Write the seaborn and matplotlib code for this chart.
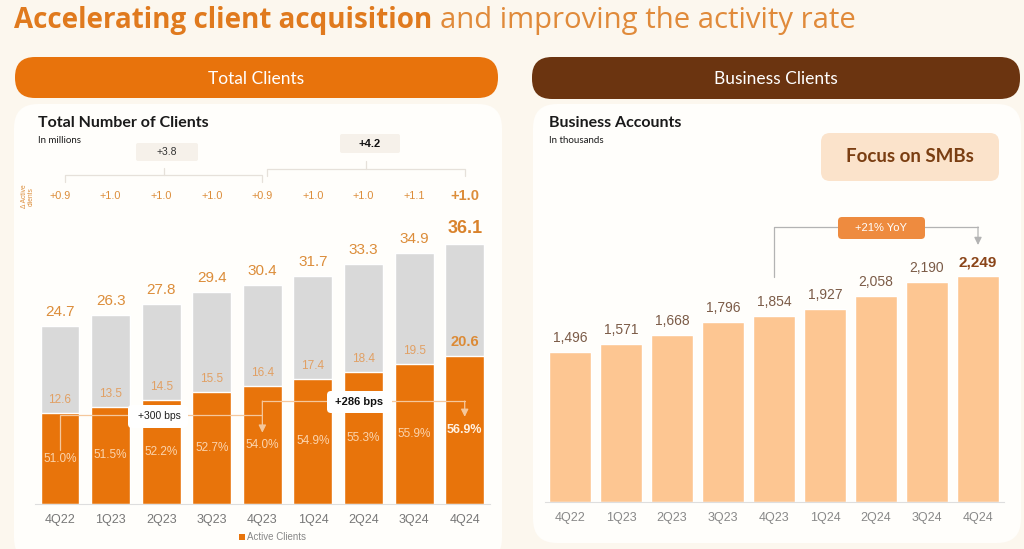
import matplotlib
matplotlib.use("Agg")
import matplotlib.pyplot as plt
import seaborn as sns
import pandas as pd
from matplotlib.patches import FancyBboxPatch, Rectangle
from matplotlib.transforms import IdentityTransform

# ---------------- data ----------------
quarters = ["4Q22", "1Q23", "2Q23", "3Q23", "4Q23", "1Q24", "2Q24", "3Q24", "4Q24"]
total_clients = [24.7, 26.3, 27.8, 29.4, 30.4, 31.7, 33.3, 34.9, 36.1]
active_clients = [12.6, 13.5, 14.5, 15.5, 16.4, 17.4, 18.4, 19.5, 20.6]
activity_rate = ["51.0%", "51.5%", "52.2%", "52.7%", "54.0%", "54.9%", "55.3%", "55.9%", "56.9%"]
delta_active = ["+0.9", "+1.0", "+1.0", "+1.0", "+0.9", "+1.0", "+1.0", "+1.1", "+1.0"]
period_growth = ["+3.8", "+4.2"]
bps_labels = ["+300 bps", "+286 bps"]
business_accounts = [1496, 1571, 1668, 1796, 1854, 1927, 2058, 2190, 2249]
yoy_label = "+21% YoY"

# ---------------- style ----------------
sns.set_style("white")
plt.rcParams["font.family"] = ["Liberation Sans", "DejaVu Sans"]
HEAD = ["Lato", "DejaVu Sans"]
TITLE = ["Open Sans", "DejaVu Sans"]

BG = "#fcf7ee"
PANEL = "#fffefb"
ORANGE = "#e8740b"
GRAY = "#d9d9d9"
PEACH = "#fdc692"
LBL = "#dc8d3a"
LBL2 = "#e1a064"
BROWN = "#6b3410"

W, H = 1024, 549
fig = plt.figure(figsize=(W / 100, H / 100), dpi=100)
fig.patch.set_facecolor(BG)


def fx(x):
    return x / W


def fy(y):
    return 1 - y / H


def rbox(x0, y0, x1, y1, r, fc, z=-5):
    p = FancyBboxPatch((x0, H - y1), x1 - x0, y1 - y0,
                       boxstyle=f"round,pad=0,rounding_size={r}",
                       transform=IdentityTransform(), fc=fc, ec="none", zorder=z)
    fig.add_artist(p)


def ftext(x, y, s, **kw):
    kw.setdefault("ha", "center")
    kw.setdefault("va", "center")
    kw.setdefault("zorder", 10)
    return fig.text(fx(x), fy(y), s, **kw)


def fit_text(t, target_px):
    fig.canvas.draw()
    w = t.get_window_extent().width
    t.set_fontsize(t.get_fontsize() * target_px / w)


# ---------------- title ----------------
t1 = ftext(14, 28, "Accelerating client acquisition", family=TITLE, fontweight="bold",
           fontsize=20, color="#e07a1e", va="baseline", ha="left")
fit_text(t1, 418)
fig.canvas.draw()
bb = t1.get_window_extent()
t2 = fig.text((bb.x1 + 8) / W, fy(28), "and improving the activity rate", family=TITLE,
              fontsize=20, color="#e08a3a", va="baseline", ha="left")
fit_text(t2, 415)

# ---------------- headers & panels ----------------
rbox(15, 57, 498, 98, 20, "#e8730c")
rbox(532, 57, 1020, 99, 20, BROWN)
ftext(256, 84, "Total Clients", family=HEAD, fontsize=12.5, color="white", va="baseline")
ftext(776, 84, "Business Clients", family=HEAD, fontsize=12.5, color="white", va="baseline")

rbox(14, 104, 502, 562, 24, PANEL)
rbox(533, 104, 1021, 543, 24, PANEL)

ftext(38, 127, "Total Number of Clients", family=HEAD, fontweight="bold", fontsize=11.5,
      color="#1a1a1a", ha="left", va="baseline")
ftext(38, 143, "In millions", family=HEAD, fontsize=7, color="#1a1a1a", ha="left", va="baseline")
ftext(549, 127, "Business Accounts", family=HEAD, fontweight="bold", fontsize=11.5,
      color="#1a1a1a", ha="left", va="baseline")
ftext(549, 143, "In thousands", family=HEAD, fontsize=7, color="#1a1a1a", ha="left", va="baseline")

# ---------------- left chart ----------------
ax1 = fig.add_axes([fx(34.7), fy(504), (490 - 34.7) / W, 288 / H])
ax1.set_facecolor("none")
df1 = pd.DataFrame({"quarter": quarters, "total": total_clients, "active": active_clients})
sns.barplot(data=df1, x="quarter", y="total", color=GRAY, saturation=1, width=0.77, ax=ax1)
sns.barplot(data=df1, x="quarter", y="active", color=ORANGE, saturation=1, width=0.77, ax=ax1)
ax1.set_xlim(-0.5, len(quarters) - 0.5)
ax1.set_ylim(0, 40)
ax1.set_xlabel("")
ax1.set_ylabel("")
ax1.set_yticks([])
for s in ["top", "left", "right"]:
    ax1.spines[s].set_visible(False)
ax1.spines["bottom"].set_color("#dedede")
ax1.tick_params(axis="x", length=0, pad=7, labelsize=9, labelcolor="#777777")

n = len(quarters)
for i in range(n):
    last = i == n - 1
    ax1.annotate(f"{total_clients[i]:.1f}", (i, total_clients[i]), xytext=(0, 5),
                 textcoords="offset points", ha="center", va="bottom",
                 fontsize=13 if last else 11, fontweight="bold" if last else "normal",
                 color="#d9822b" if last else LBL)
    ax1.annotate(f"{active_clients[i]:.1f}", (i, active_clients[i]), xytext=(0, 5),
                 textcoords="offset points", ha="center", va="bottom",
                 fontsize=10.5 if last else 8.5, fontweight="bold" if last else "normal",
                 color="#dc8a35" if last else LBL2)
    ax1.text(i, active_clients[i] / 2, activity_rate[i], ha="center", va="center",
             fontsize=9 if last else 8.5, fontweight="bold" if last else "normal",
             color="#fff1e2" if last else "#fbd4ad", zorder=5)
    ax1.text(i, 1.069, delta_active[i], transform=ax1.get_xaxis_transform(),
             ha="center", va="center", fontsize=10.5 if last else 7.8,
             fontweight="bold" if last else "normal", color=LBL, clip_on=False)

ax1.text(-0.63, 1.069, "Δ Active\nclients", transform=ax1.get_xaxis_transform(),
         rotation=90, ha="center", va="center", fontsize=4.8, color=LBL,
         linespacing=1.0, clip_on=False)

# period brackets
xt = ax1.get_xaxis_transform()
BR = "#e6e1da"
for (xa, xb, yb, ye, yc) in [(0.1, 4.0, 1.142, 1.118, 1.167), (4.1, 8.0, 1.163, 1.139, 1.191)]:
    ax1.plot([xa, xa, xb, xb], [ye, yb, yb, ye], color=BR, lw=0.9, transform=xt, clip_on=False)
    xm = (xa + xb) / 2
    ax1.plot([xm, xm], [yb, yc], color=BR, lw=0.9, transform=xt, clip_on=False)

rbox(136, 143, 198, 161, 2, "#f6f1ea", z=4)
ftext(167, 152, period_growth[0], fontsize=7.5, color="#333333")
rbox(340, 134, 400, 153, 2, "#f6f1ea", z=4)
ftext(370, 144, period_growth[1], fontsize=8, fontweight="bold", color="#111111")

# activity-rate connectors
LC = "#f5c79c"
ax1.plot([0, 0, 4], [7.5, 12.4, 12.4], color=LC, lw=0.9, zorder=4)
ax1.plot([4, 8], [14.3, 14.3], color=LC, lw=0.9, zorder=4)
for (x, y0, y1) in [(4, 14.3, 9.9), (8, 14.3, 12.1)]:
    ax1.annotate("", xy=(x, y1), xytext=(x, y0),
                 arrowprops=dict(arrowstyle="-|>,head_length=0.45,head_width=0.22",
                                 color=LC, lw=0.9, shrinkA=0, shrinkB=0), zorder=4)

rbox(128, 405, 188, 428, 4, "white", z=5)
ftext(159, 416, bps_labels[0], fontsize=7.5, color="#222222")
rbox(327, 391, 392, 413, 4, "white", z=5)
ftext(359, 402, bps_labels[1], fontsize=8, fontweight="bold", color="#111111")

# legend
fig.add_artist(Rectangle((239, H - 540), 6, 6, transform=IdentityTransform(),
                         fc=ORANGE, ec="none", zorder=6))
ftext(247, 537, "Active Clients", fontsize=7, color="#888888", ha="left")

# ---------------- right chart ----------------
ax2 = fig.add_axes([fx(544.5), fy(502), 459 / W, 250.75 / H])
ax2.set_facecolor("none")
df2 = pd.DataFrame({"quarter": quarters, "accounts": business_accounts})
sns.barplot(data=df2, x="quarter", y="accounts", color=PEACH, saturation=1, width=0.84, ax=ax2)
ax2.set_xlim(-0.5, len(quarters) - 0.5)
ax2.set_ylim(0, 2500)
ax2.set_xlabel("")
ax2.set_ylabel("")
ax2.set_yticks([])
for s in ["top", "left", "right"]:
    ax2.spines[s].set_visible(False)
ax2.spines["bottom"].set_color("#dedede")
ax2.tick_params(axis="x", length=0, pad=7, labelsize=9, labelcolor="#888888")

for i, v in enumerate(business_accounts):
    last = i == n - 1
    ax2.annotate(f"{v:,}", (i, v), xytext=(0, 5), textcoords="offset points",
                 ha="center", va="bottom", fontsize=11 if last else 10,
                 fontweight="bold" if last else "normal",
                 color="#8a4418" if last else "#7b5b47")

GC = "#b3b3b3"
ax2.plot([4, 4, 8], [2243, 2742, 2742], color=GC, lw=0.9, clip_on=False)
ax2.annotate("", xy=(8, 2562), xytext=(8, 2742),
             arrowprops=dict(arrowstyle="-|>,head_length=0.45,head_width=0.22",
                             color=GC, lw=0.9, shrinkA=0, shrinkB=0), annotation_clip=False)
rbox(838, 217, 925, 239, 4, "#ee8b3f", z=5)
ftext(881, 228, yoy_label, fontsize=8, color="white")

rbox(821, 133, 999, 181, 9, "#fbe3cb", z=4)
ftext(910, 157, "Focus on SMBs", family=HEAD, fontsize=13.5, fontweight="bold", color="#7a3e12")

fig.savefig("out.png", dpi=100, facecolor=BG)
